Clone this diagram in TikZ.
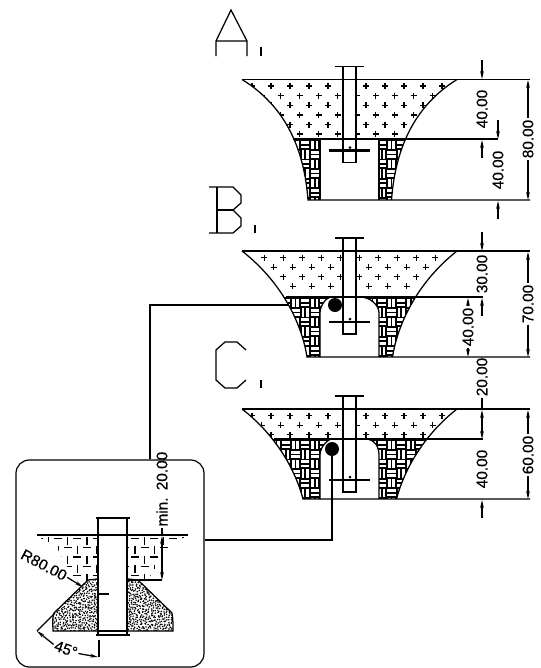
\documentclass[tikz,border=0pt]{standalone}
\usepackage{fontspec}
\setmainfont{Liberation Sans}
\newfontfamily\dimfont[FakeBold=0.5]{Liberation Sans}
\usetikzlibrary{arrows.meta}
\tikzset{
    line/.style={line width=0.95pt},
    lightline/.style={line width=0.95pt},
    dimtext/.style={rotate=90, inner sep=1pt, font=\dimfont\fontsize{11.5}{11.5}\selectfont},
    slanttext/.style={inner sep=1pt, font=\dimfont\fontsize{11.5}{11.5}\selectfont},
    bigdot/.style={circle, fill=black, inner sep=0pt, minimum size=10.5pt},
    insetbox/.style={draw, line width=0.9pt, rounded corners=10pt, minimum width=141pt, minimum height=155.25pt}
}
\begin{document}
\begin{tikzpicture}[x=0.75pt, y=-0.75pt, >={Stealth[length=6pt,width=2.8pt]}]
    \useasboundingbox (0,0) rectangle (541,668);
    % the three sockets
    \foreach \yt/\ym/\yb/\xa/\ya/\xc/\yc/\xb/\xm/\xe/\aa/\xl/\xr/\rows/\xo in {
        79.5/139/200/292/110/305/160/308/293/498/0/320/379/6/252,
        251/297/357/283/283/302/325/307/286/483/16/331/360/4/245.3,
        409/439/499/272/432/294/465/303/274/483/16/332/365/3/252} {
        \pgfmathsetmacro\rxa{699.5-\xa}
        \pgfmathsetmacro\rxc{699.5-\xc}
        \pgfmathsetmacro\rxb{699.5-\xb}
        \pgfmathsetmacro\cc{\aa/2}
        \begin{scope}
            \clip (242,\yt) .. controls (\xa,\ya) and (\xc,\yc) .. (\xb,\yb) -- (\rxb,\yb) .. controls (\rxc,\yc) and (\rxa,\ya) .. (457,\yt) -- cycle;
            \begin{scope}
                \clip (260,\ym) -- (\xl,\ym) .. controls (\xl-4,\ym) and (320,\ym+\cc) .. (320,\ym+\aa) -- (320,\yb) -- (260,\yb) -- cycle
                    (\xr,\ym) .. controls (\xr+10,\ym) and (379,\ym+\cc) .. (379,\ym+\aa) -- (379,\yb) -- (440,\yb) -- (440,\ym) -- cycle;
                \fill (260,\ym) rectangle (440,\yb);
                \foreach \i in {0,...,18} {
                    \foreach \j in {0,...,6} {
                        \pgfmathsetmacro\tx{262+9.6*\i}
                        \pgfmathsetmacro\ty{\ym+1+9.6*\j}
                        \pgfmathtruncatemacro\kk{mod(\i+\j,2)}
                        \ifnum\kk=0
                            \draw[white, line width=2pt] (\tx+0.6,\ty+2.6) -- (\tx+9,\ty+2.6) (\tx+0.6,\ty+6.9) -- (\tx+9,\ty+6.9);
                        \else
                            \draw[white, line width=2pt] (\tx+2.6,\ty+0.6) -- (\tx+2.6,\ty+9) (\tx+6.9,\ty+0.6) -- (\tx+6.9,\ty+9);
                        \fi
                    }
                }
            \end{scope}
            \foreach \j in {1,...,\rows} {
                \foreach \i in {0,...,12} {
                    \pgfmathsetmacro\py{\yt-3+9.6*\j}
                    \pgfmathsetmacro\px{\xo+19*\i+9.5*mod(\j+1,2)}
                    \draw[line width=1pt, shift={(\px,\py)}] (-3,0) -- (3,0) (0,-3) -- (0,3);
                }
            }
        \end{scope}
        \pgfmathsetmacro\yp{\yt-13}
        \pgfmathsetmacro\yq{\yt+83}
        \pgfmathsetmacro\ys{\yt+71}
        \draw[line, fill=white] (343,\yp) rectangle (356,\yq);
        \draw[line] (335,\yp) -- (364,\yp);
        \draw[line width=2.1pt] (329,\ys) -- (370,\ys);
        \fill (350,\ys-3) circle (1.5);
        % outline
        \draw[line] (242,\yt) .. controls (\xa,\ya) and (\xc,\yc) .. (\xb,\yb) -- (530,\yb);
        \draw[line] (457,\yt) .. controls (\rxa,\ya) and (\rxc,\yc) .. (\rxb,\yb);
        \draw[line] (242,\yt) -- (530,\yt);
        \draw[line] (\xm,\ym) -- (\xe,\ym);
        \draw[line] (\xl,\ym) .. controls (\xl-4,\ym) and (320,\ym+\cc) .. (320,\ym+\aa) -- (320,\yb);
        \draw[line] (\xr,\ym) .. controls (\xr+10,\ym) and (379,\ym+\cc) .. (379,\ym+\aa) -- (379,\yb);
    }
    % letters
    \draw[lightline] (216,56) -- (216,41) -- (231,10) -- (247,41) -- (247,56) (216,41) -- (247,41);
    \draw[lightline] (261,47) -- (261,56);
    \draw[lightline] (209,187) -- (233,187) -- (241,195) -- (241,203) -- (233,210) -- (241,218) -- (241,226) -- (233,233) -- (209,233);
    \draw[lightline] (217,187) -- (217,233) (217,210) -- (233,210);
    \draw[lightline] (255,225) -- (255,233);
    \draw[lightline] (246,350) -- (237,342) -- (225,342) -- (216,350) -- (216,380) -- (225,388) -- (237,388) -- (246,380);
    \draw[lightline] (261,380) -- (261,388);
    % dimensions of A
    \node[dimtext] (dimAa) at (482,109) {40.00};
    \node[dimtext] (dimAb) at (498,170) {40.00};
    \node[dimtext] (dimAc) at (528,139) {80.00};
    \draw[line, ->] (482,60) -- (482,79);
    \draw[line, ->] (498,120) -- (498,139);
    \draw[line, ->] (482,158) -- (482,140);
    \draw[line, ->] (498,219) -- (498,201);
    \draw[line, ->] (dimAc.east) -- (528,80);
    \draw[line, ->] (dimAc.west) -- (528,200);
    % dimensions of B
    \node[dimtext] (dimBa) at (482,274) {30.00};
    \node[dimtext] (dimBb) at (468,327) {40.00};
    \node[dimtext] (dimBc) at (528,304) {70.00};
    \draw[line, ->] (482,232) -- (482,251);
    \draw[line, ->] (482,316) -- (482,298);
    \draw[line, ->] (dimBb.east) -- (468,298);
    \draw[line, ->] (dimBb.west) -- (468,357);
    \draw[line, ->] (dimBc.east) -- (528,252);
    \draw[line, ->] (dimBc.west) -- (528,357);
    % dimensions of C
    \node[dimtext] (dimCa) at (482,377) {20.00};
    \node[dimtext] (dimCb) at (482,469) {40.00};
    \node[dimtext] (dimCc) at (528,455) {60.00};
    \draw[line] (dimCa.west) -- (482,409);
    \draw[line, <->] (482,410) -- (482,439);
    \draw[line, ->] (482,518) -- (482,500);
    \draw[line, ->] (dimCc.east) -- (528,410);
    \draw[line, ->] (dimCc.west) -- (528,499);
    % inset
    \node[insetbox] (inset) at (110,563.5) {};
    \begin{scope}
        \clip (38,536) -- (98,536) -- (98,581) -- (75,581) -- (55,544) -- (45,541) -- cycle (128,536) -- (188,536) -- (172,542) -- (147,581) -- (128,581) -- cycle;
        \foreach \i in {0,...,16} {
            \foreach \j in {0,...,4} {
                \pgfmathsetmacro\tx{34+9.6*\i}
                \pgfmathsetmacro\ty{537+9.3*\j}
                \pgfmathtruncatemacro\kk{mod(\i+\j,2)}
                \ifnum\kk=0
                    \draw[lightline] (\tx+1,\ty+1.5) -- (\tx+9,\ty+1.5);
                \else
                    \draw[lightline] (\tx+5,\ty) -- (\tx+5,\ty+8);
                \fi
            }
        }
    \end{scope}
    \begin{scope}
        \clip (98,579) -- (88,580) -- (54,613) -- (53,631) -- (98,631) -- cycle (128,579) -- (138,580) -- (172,613) -- (173,631) -- (128,631) -- cycle;
        \pgfmathsetseed{42}
        \foreach \x in {52,54.2,...,175} {
            \foreach \y in {578,580.2,...,632} {
                \fill (\x+2*rnd-1,\y+2*rnd-1) circle (0.85);
            }
        }
    \end{scope}
    \draw[line] (98,579) -- (88,580) -- (54,613) .. controls (52,618) and (53,625) .. (53,631) -- (98,631);
    \draw[line] (128,579) -- (138,580) -- (172,613) .. controls (173,618) and (173,625) .. (173,631) -- (128,631);
    \draw[line, fill=white] (98,518) rectangle (127,635);
    \draw[line] (96,518) -- (130,518) (98,631) -- (127,631);
    \draw[line] (96,635) -- (130,635);
    \draw[line] (37,535) -- (188,535);
    \draw[line] (98,594) -- (109,594);
    \node[dimtext] (dimIa) at (162,471) {20.00};
    \node[dimtext] (dimIb) at (162,512) {min.};
    \draw[line] (dimIb.west) -- (162,536);
    \draw[line, <->] (162,536) -- (162,580);
    \draw[line] (128,580) -- (162,580);
    \node[slanttext, rotate=-28] (radI) at (44,565) {R80.00};
    \draw[line, ->] (radI.east) -- (83,587);
    \node[slanttext, rotate=-20] (angI) at (66,649) {45°};
    \draw[line] (37,631) -- (55,613);
    \draw[line, ->] (angI.west) -- (37,631);
    \draw[line, ->] (angI.east) -- (98,657);
    \draw[line] (99,640) -- (99,657);
    % leaders
    \node[bigdot] (dotB) at (335,305) {};
    \node[bigdot] (dotC) at (332,449) {};
    \coordinate (leadB) at (288,305);
    \coordinate (cornerB) at (150,305);
    \draw[line] (leadB) -- (cornerB) -- (cornerB |- inset.north);
    \draw[line] (dotC) |- (inset.east |- 332,540);
\end{tikzpicture}
\end{document}
